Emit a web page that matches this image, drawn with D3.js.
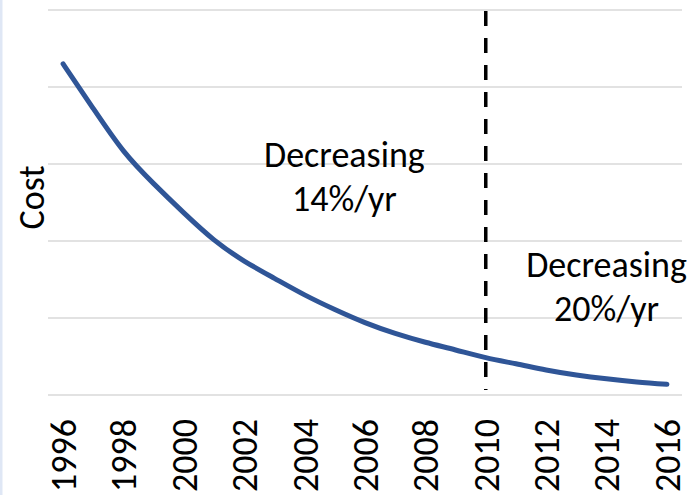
<!DOCTYPE html>
<html>
<head>
<meta charset="utf-8">
<script src="https://cdn.jsdelivr.net/npm/d3@7"></script>
<style>
  html, body { margin: 0; padding: 0; background: #fff; }
  svg { display: block; }
  text { font-family: Carlito, Calibri, Lato, sans-serif; fill: #000; }
</style>
</head>
<body>
<svg id="chart" width="694" height="495"></svg>
<script>
const years = ["1996","1997","1998","1999","2000","2001","2002","2003","2004","2005","2006",
               "2007","2008","2009","2010","2011","2012","2013","2014","2015","2016"];
const tickLabels = ["1996","1998","2000","2002","2004","2006","2008","2010","2012","2014","2016"];
const cost = [86.0, 74.4, 63.4, 54.9, 47.3, 40.3, 34.8, 30.3, 26.0, 22.2, 18.8,
              16.0, 13.7, 11.7, 9.7, 8.1, 6.5, 5.2, 4.2, 3.4, 2.8];
const gridValues = [0, 20, 40, 60, 80, 100];
const breakYear = "2010";
const annotations = [
  {year: "2003", lines: ["Decreasing", "14%/yr"], value: 59.2},
  {year: "2014", lines: ["Decreasing", "20%/yr"], value: 30.6}
];

(function () {
const svg = d3.select("#chart");
const W = 694, H = 495;
const mLeft = 48, mRight = 682, mTop = 10, mBottom = 395;
const fontSize = "36px";

const x = d3.scaleBand().domain(years).range([mLeft, mRight]).padding(0);
const y = d3.scaleLinear().domain([0, 100]).range([mBottom, mTop]);
const cx = d => x(d) + x.bandwidth() / 2;

// light left border
svg.append("rect").attr("x", 0).attr("y", 0).attr("width", 2.5).attr("height", H)
  .attr("fill", "#dfe7f5");

// gridlines
svg.append("g").selectAll("line").data(gridValues).join("line")
  .attr("x1", mLeft).attr("x2", mRight)
  .attr("y1", d => y(d)).attr("y2", d => y(d))
  .attr("stroke", "#d9d9d9").attr("stroke-width", 1.5);

// x axis tick labels (rotated)
const xAxis = d3.axisBottom(x).tickValues(tickLabels).tickSize(0).tickPadding(0);
const gx = svg.append("g").attr("transform", `translate(0,${mBottom})`).call(xAxis);
gx.select(".domain").remove();
gx.selectAll(".tick text")
  .attr("transform", "translate(0,24) rotate(-90)")
  .attr("x", 0).attr("y", 0).attr("dy", "0.36em")
  .attr("text-anchor", "end")
  .style("font-size", fontSize)
  .style("font-family", "Carlito, Calibri, Lato, sans-serif")
  .attr("fill", "#000");

// y axis title
svg.append("text")
  .attr("transform", `translate(44,${(mTop + mBottom) / 2 - 5}) rotate(-90)`)
  .attr("text-anchor", "middle")
  .style("font-size", fontSize)
  .text("Cost");

// dashed divider
svg.append("line")
  .attr("x1", cx(breakYear)).attr("x2", cx(breakYear))
  .attr("y1", mTop + 1).attr("y2", mBottom - 5)
  .attr("stroke", "#000").attr("stroke-width", 3.5)
  .attr("stroke-dasharray", "15,12");

// cost curve
const line = d3.line().x((d, i) => cx(years[i])).y(d => y(d)).curve(d3.curveNatural);
svg.append("path").datum(cost)
  .attr("d", line)
  .attr("fill", "none")
  .attr("stroke", "#2f5597")
  .attr("stroke-width", 5)
  .attr("stroke-linecap", "round")
  .attr("stroke-linejoin", "round");

// annotations
annotations.forEach(a => {
  const ax = cx(a.year) + (a.year === "2003" ? 70 : 0);
  const t = svg.append("text")
    .attr("x", ax)
    .attr("y", y(a.value))
    .attr("text-anchor", "middle")
    .style("font-size", fontSize);
  a.lines.forEach((l, i) => {
    t.append("tspan").attr("x", ax).attr("dy", i === 0 ? 0 : 44).text(l);
  });
});
})();
</script>
</body>
</html>
